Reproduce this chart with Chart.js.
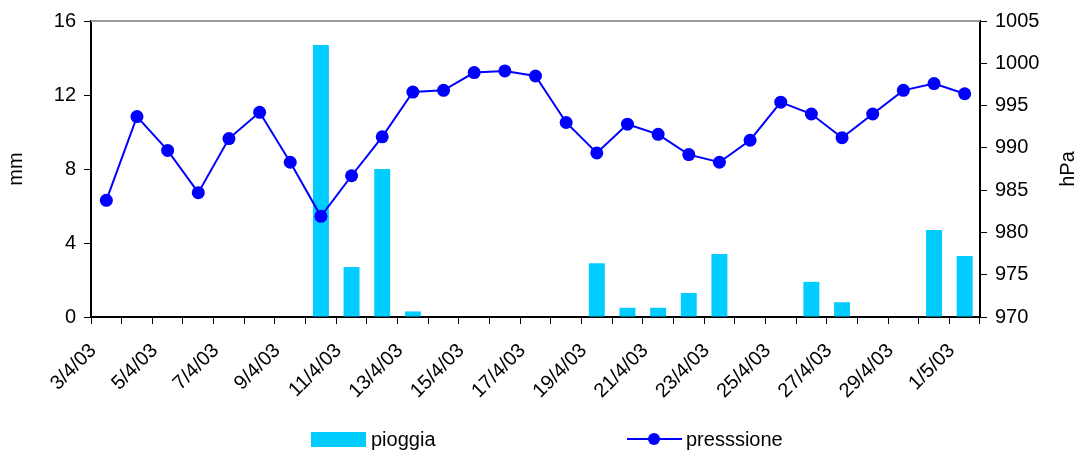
<!DOCTYPE html>
<html>
<head>
<meta charset="utf-8">
<script src="https://cdn.jsdelivr.net/npm/chart.js@4/dist/chart.umd.min.js"></script>
<style>
  html, body { margin: 0; padding: 0; background: #fff; }
  #wrap { width: 1079px; height: 452px; position: relative; }
</style>
</head>
<body>
<div id="wrap"><canvas id="c" width="1079" height="452"></canvas></div>
<script>
const dates = ['3/4/03','4/4/03','5/4/03','6/4/03','7/4/03','8/4/03','9/4/03','10/4/03','11/4/03','12/4/03',
  '13/4/03','14/4/03','15/4/03','16/4/03','17/4/03','18/4/03','19/4/03','20/4/03','21/4/03','22/4/03',
  '23/4/03','24/4/03','25/4/03','26/4/03','27/4/03','28/4/03','29/4/03','30/4/03','1/5/03'];
const pioggia = [0,0,0,0,0,0,0,14.7,2.7,8.0,0.3,0,0,0,0,0,2.9,0.5,0.5,1.3,3.4,0,0,1.9,0.8,0,0,4.7,3.3];
const pressione = [983.8,993.7,989.7,984.7,991.1,994.2,988.3,981.9,986.7,991.3,996.6,996.8,998.9,999.1,998.5,
  993.0,989.4,992.8,991.6,989.2,988.3,990.9,995.4,994.0,991.2,994.0,996.8,997.6,996.4];
const mmTicks = { min: 0, max: 16, step: 4 };
const hpaTicks = { min: 970, max: 1005, step: 5 };

const FONT = 'Liberation Sans, Arial, sans-serif';
const BAR_COLOR = '#00CCFF';
const LINE_COLOR = '#0000FF';

const decor = {
  id: 'decor',
  afterDraw(chart) {
    const ctx = chart.ctx;
    const a = chart.chartArea;
    ctx.save();
    // top border
    ctx.strokeStyle = '#9a9a9a';
    ctx.lineWidth = 2;
    ctx.beginPath();
    ctx.moveTo(a.left, a.top);
    ctx.lineTo(a.right, a.top);
    ctx.stroke();
    // right axis title (reads bottom to top)
    ctx.fillStyle = '#000';
    ctx.font = '20px ' + FONT;
    ctx.textAlign = 'center';
    ctx.textBaseline = 'middle';
    ctx.translate(1068, (a.top + a.bottom) / 2);
    ctx.rotate(-Math.PI / 2);
    ctx.fillText('hPa', 0, 0);
    ctx.restore();

    // legend
    ctx.save();
    const ly = 439;
    ctx.fillStyle = BAR_COLOR;
    ctx.fillRect(311, 432, 55, 15);
    ctx.fillStyle = '#000';
    ctx.font = '20px ' + FONT;
    ctx.textAlign = 'left';
    ctx.textBaseline = 'middle';
    ctx.fillText(chart.data.datasets[1].label, 371, ly + 1);
    ctx.strokeStyle = LINE_COLOR;
    ctx.lineWidth = 2;
    ctx.beginPath();
    ctx.moveTo(627, ly);
    ctx.lineTo(682, ly);
    ctx.stroke();
    ctx.fillStyle = LINE_COLOR;
    ctx.beginPath();
    ctx.arc(654, ly, 6, 0, Math.PI * 2);
    ctx.fill();
    ctx.fillStyle = '#000';
    ctx.fillText(chart.data.datasets[0].label, 686, ly + 1);
    ctx.restore();
  }
};

new Chart(document.getElementById('c'), {
  type: 'bar',
  data: {
    labels: dates,
    datasets: [
      {
        type: 'line',
        label: 'presssione',
        data: pressione,
        yAxisID: 'y1',
        borderColor: LINE_COLOR,
        backgroundColor: LINE_COLOR,
        borderWidth: 2,
        pointRadius: 6.5,
        pointBorderWidth: 0,
        pointBackgroundColor: LINE_COLOR,
        tension: 0,
        order: 0
      },
      {
        type: 'bar',
        label: 'pioggia',
        data: pioggia,
        yAxisID: 'y',
        backgroundColor: BAR_COLOR,
        borderWidth: 0,
        barPercentage: 0.52,
        categoryPercentage: 1,
        order: 1
      }
    ]
  },
  options: {
    responsive: false,
    animation: false,
    devicePixelRatio: 1,
    layout: { padding: { top: 21, left: 0, right: 0, bottom: 0 } },
    plugins: {
      legend: { display: false },
      tooltip: { enabled: false }
    },
    scales: {
      x: {
        offset: true,
        grid: { display: true, drawOnChartArea: false, drawTicks: true, tickLength: 7, color: '#000', offset: true, lineWidth: 1 },
        border: { display: true, color: '#000', width: 2 },
        ticks: {
          autoSkip: false, maxRotation: 45, minRotation: 45,
          color: '#000', font: { family: FONT, size: 20 }, padding: 15, labelOffset: -13,
          callback: (v, i) => (i % 2 === 0 ? dates[i] : '')
        },
        afterFit: (s) => { s.height = 135; }
      },
      y: {
        position: 'left',
        min: mmTicks.min, max: mmTicks.max,
        grid: { display: true, drawOnChartArea: false, drawTicks: true, tickLength: 7, color: '#000' },
        border: { display: true, color: '#000', width: 2 },
        ticks: { stepSize: mmTicks.step, color: '#000', font: { family: FONT, size: 20 }, padding: 8,
          callback: (v) => String(v) },
        title: { display: true, text: 'mm', color: '#000', font: { family: FONT, size: 20 } },
        afterFit: (s) => { s.width = 91; }
      },
      y1: {
        position: 'right',
        min: hpaTicks.min, max: hpaTicks.max,
        grid: { display: true, drawOnChartArea: false, drawTicks: true, tickLength: 7, color: '#000' },
        border: { display: true, color: '#000', width: 2 },
        ticks: { stepSize: hpaTicks.step, color: '#000', font: { family: FONT, size: 20 }, padding: 8,
          callback: (v) => String(v) },
        afterFit: (s) => { s.width = 99; }
      }
    }
  },
  plugins: [decor]
});
</script>
</body>
</html>
